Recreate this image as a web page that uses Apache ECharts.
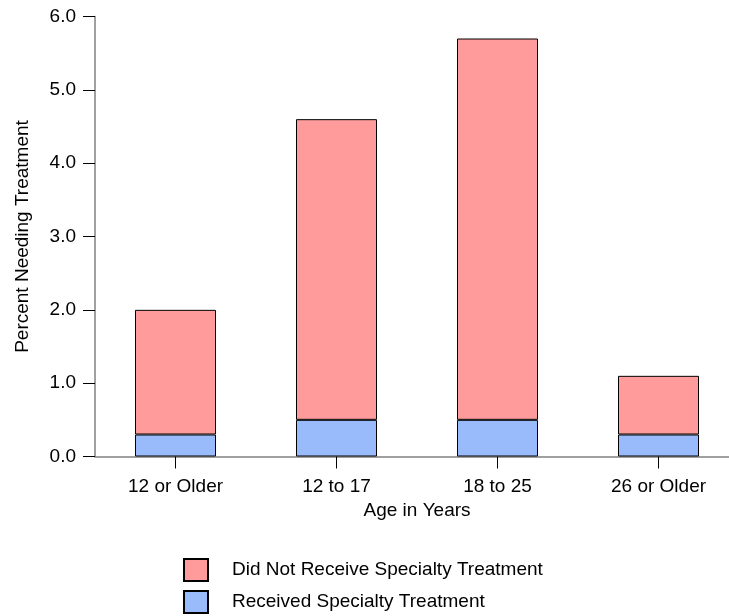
<!DOCTYPE html>
<html><head><meta charset="utf-8">
<script src="https://cdn.jsdelivr.net/npm/echarts@6/dist/echarts.min.js"></script>
<style>html,body{margin:0;padding:0;background:#fff;overflow:hidden;width:729px;height:616px;}#c{width:739px;height:616px;}</style>
</head><body><div id="c"></div>
<script>
var categories = ['12 or Older', '12 to 17', '18 to 25', '26 or Older'];
var received = [0.3, 0.5, 0.5, 0.3];
var notReceived = [1.7, 4.1, 5.2, 0.8];
var yTicks = [0, 1, 2, 3, 4, 5, 6];

var chart = echarts.init(document.getElementById('c'));
var font = 'Arial, "Liberation Sans", sans-serif';
var fs = 19;
chart.setOption({
  animation: false,
  textStyle: {fontFamily: font},
  grid: {left: 95, right: 0, top: 16.5, bottom: 159.5, containLabel: false},
  legend: {
    orient: 'vertical', left: 183, top: 558, padding: 0,
    itemWidth: 24, itemHeight: 22, itemGap: 8, icon: 'rect',
    textStyle: {fontSize: fs, color: '#000', fontFamily: font, padding: [0, 0, 0, 19]},
    data: ['Did Not Receive Specialty Treatment', 'Received Specialty Treatment']
  },
  xAxis: {
    type: 'category', data: categories,
    name: 'Age in Years', nameLocation: 'middle', nameGap: 44,
    nameTextStyle: {fontSize: fs, color: '#000', fontFamily: font},
    axisLine: {lineStyle: {color: '#808080', width: 1.5}},
    axisTick: {show: true, alignWithLabel: true, length: 12, lineStyle: {color: '#000'}},
    axisLabel: {fontSize: fs, color: '#000', margin: 21, fontFamily: font}
  },
  yAxis: {
    type: 'value', min: 0, max: 6, interval: 1,
    name: 'Percent Needing Treatment', nameLocation: 'middle', nameGap: 63,
    nameTextStyle: {fontSize: fs, color: '#000', fontFamily: font},
    axisLine: {show: true, lineStyle: {color: '#808080', width: 1.5}},
    axisTick: {show: true, length: 12, lineStyle: {color: '#000'}},
    splitLine: {show: false},
    axisLabel: {fontSize: fs, color: '#000', margin: 19, fontFamily: font,
      formatter: function (v) { return yTicks.indexOf(v) >= 0 ? v.toFixed(1) : ''; }}
  },
  series: [
    {name: 'Received Specialty Treatment', type: 'bar', stack: 't', data: received, barWidth: 81,
     itemStyle: {color: '#99BBFB', borderColor: '#000', borderWidth: 1}},
    {name: 'Did Not Receive Specialty Treatment', type: 'bar', stack: 't', data: notReceived, barWidth: 81,
     itemStyle: {color: '#FF9B9B', borderColor: '#000', borderWidth: 1}}
  ]
});
</script></body></html>
